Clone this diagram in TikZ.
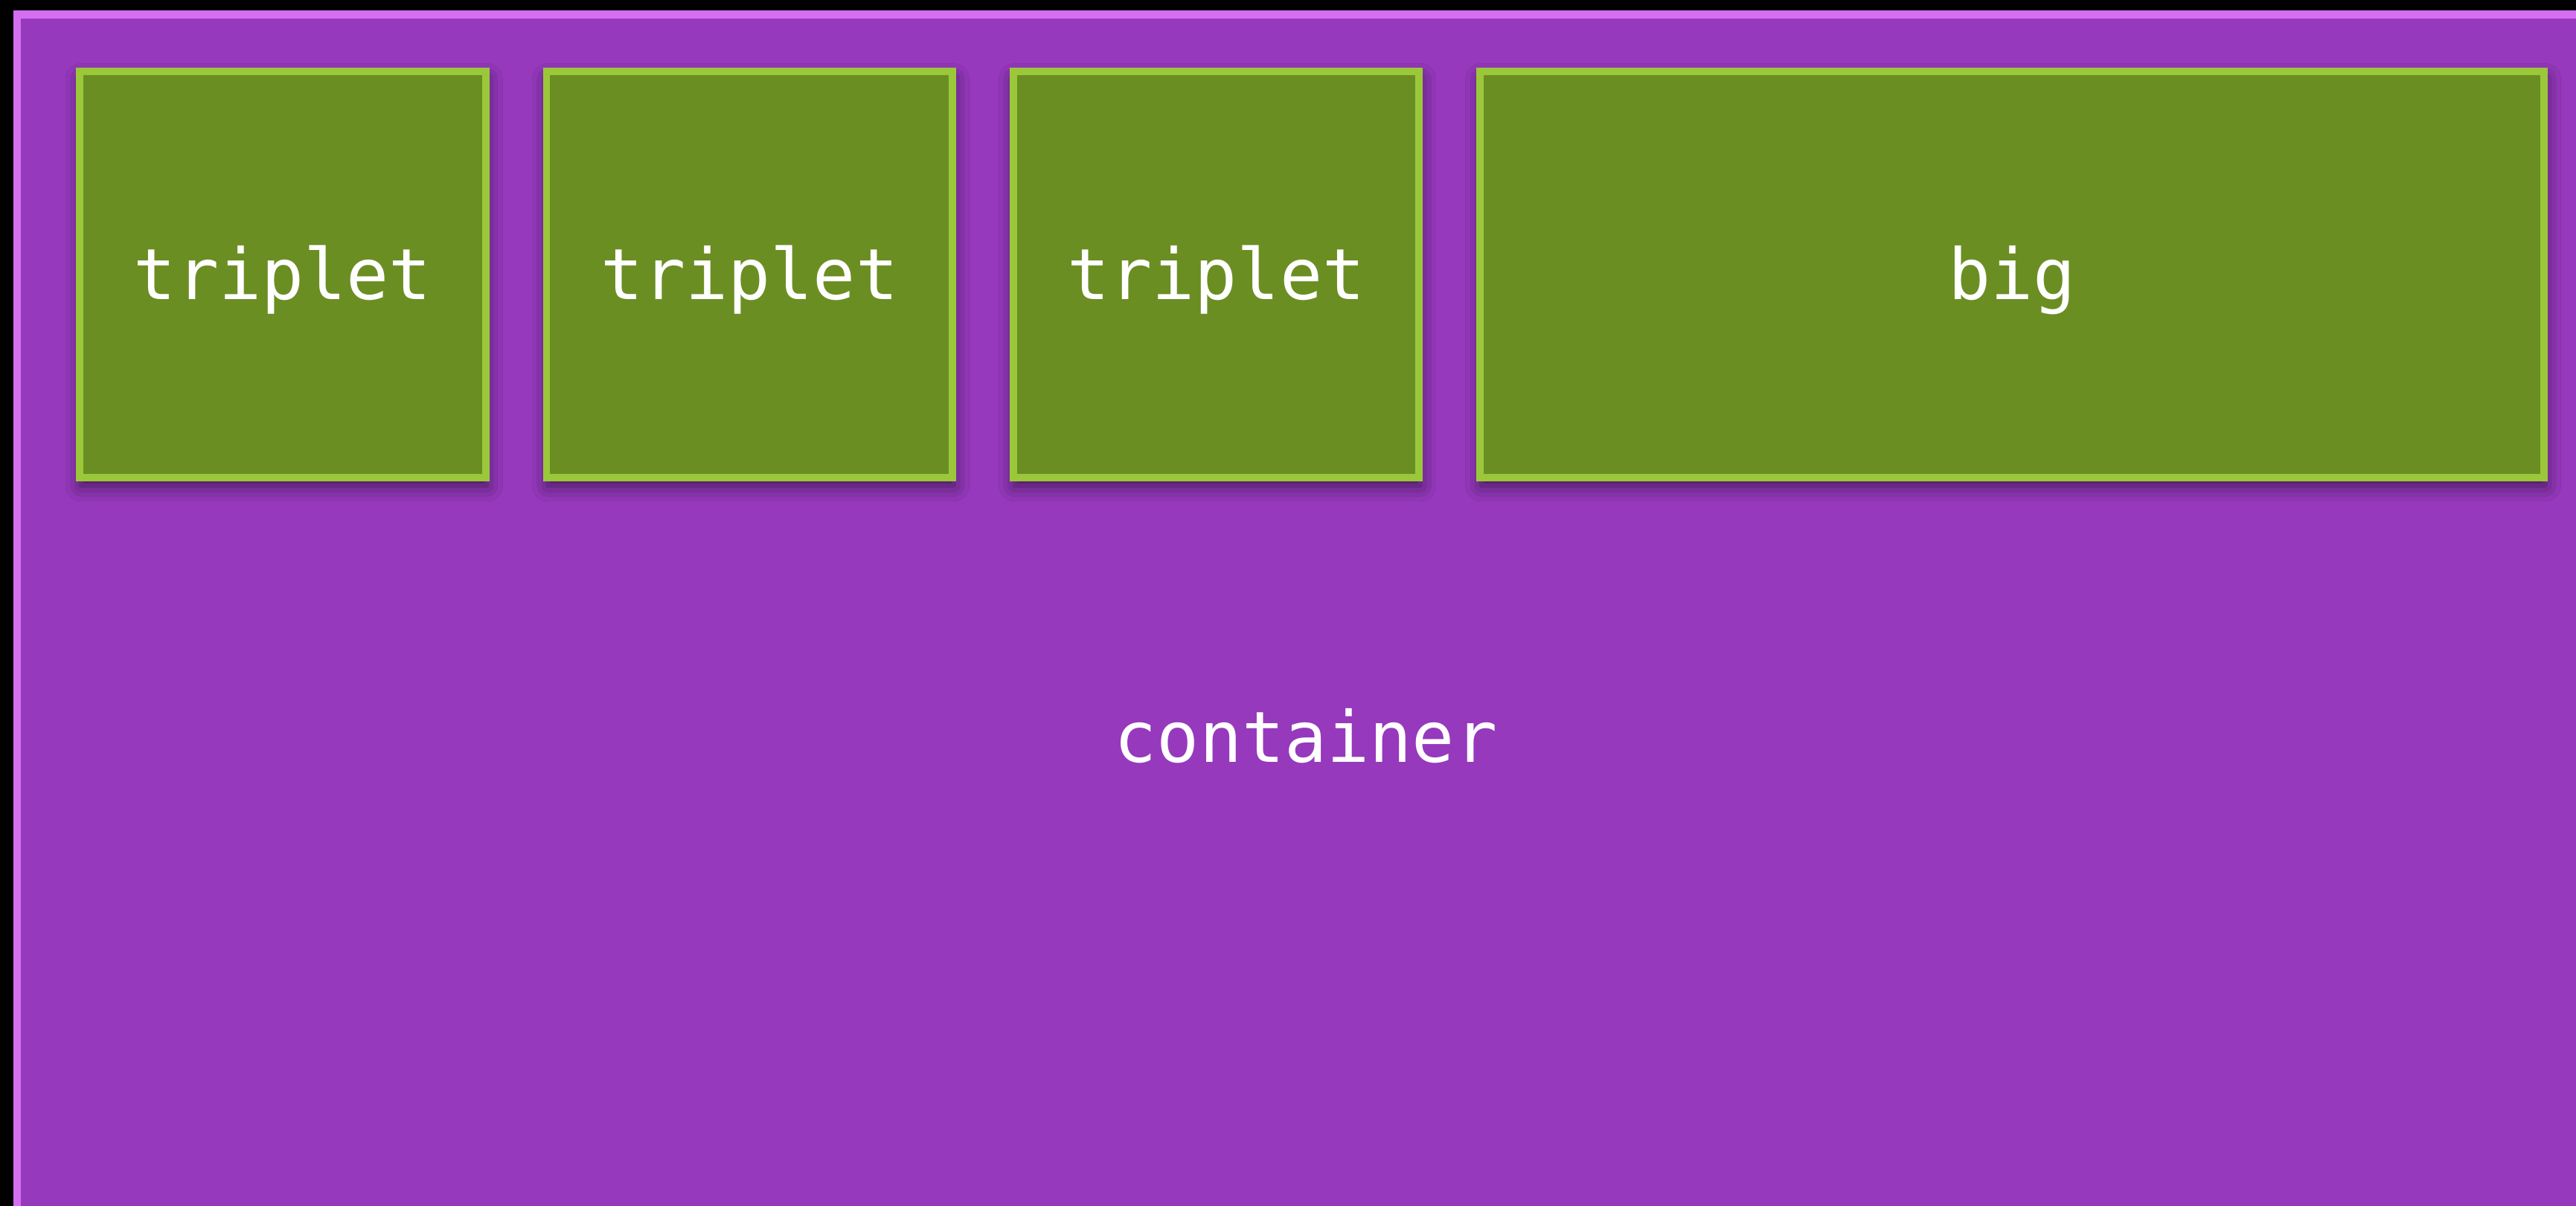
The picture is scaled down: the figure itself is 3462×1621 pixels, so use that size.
\documentclass[tikz,border=0pt]{standalone}
\usepackage{fontspec}
\setmonofont{DejaVu Sans Mono}
\usepackage{xcolor}
\usetikzlibrary{positioning,shadows.blur}

\definecolor{holderfill}{RGB}{150,57,189}
\definecolor{holderline}{RGB}{212,111,240}
\definecolor{cellfill}{RGB}{107,142,35}
\definecolor{cellline}{RGB}{154,200,58}

\begin{document}
\begin{tikzpicture}[x=0.01cm, y=-0.01cm,
  holder/.style={draw=holderline, fill=holderfill, line width=3pt,
                 minimum width=34.62cm, minimum height=19.38cm,
                 font=\fontsize{27pt}{33pt}\selectfont\ttfamily, text=white},
  cell/.style={draw=cellline, fill=cellfill, line width=2.8pt,
               minimum width=5.45cm, minimum height=5.46cm,
               text height=25pt, text depth=6pt,
               blur shadow={shadow xshift=0.5pt, shadow yshift=-3pt,
                            shadow blur radius=6pt, shadow opacity=60},
               font=\fontsize{27pt}{33pt}\selectfont\ttfamily, text=white}
]
  \useasboundingbox (0,0) rectangle (3462,1621);
  \fill[black] (0,0) rectangle (3462,1621);
  \clip (0,0) rectangle (3462,1621);

  \node[holder] (holder) at (1755,989) {container};

  \node[cell] (t1) at (380,369) {triplet};
  \node[cell, right=0.72cm of t1] (t2) {triplet};
  \node[cell, right=0.72cm of t2] (t3) {triplet};
  \node[cell, right=0.72cm of t3, minimum width=14.29cm] (big) {big};
\end{tikzpicture}
\end{document}
